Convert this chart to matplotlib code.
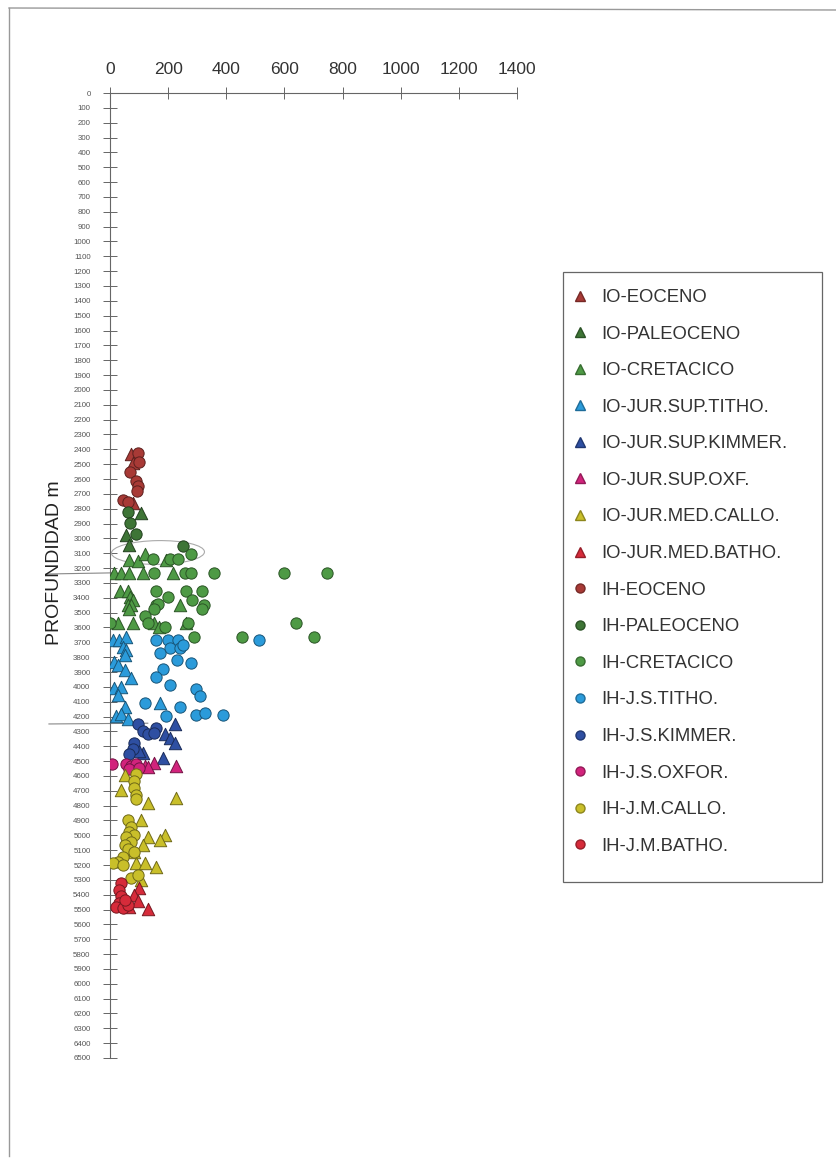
import matplotlib
matplotlib.use("Agg")
import matplotlib.pyplot as plt
from matplotlib.patches import Ellipse, Rectangle
from matplotlib.lines import Line2D
import numpy as np

plt.rcParams['font.family'] = ['Liberation Sans', 'DejaVu Sans']

# ---------------- data (x value, depth m) ----------------
io_eoceno_x = [73, 80, 78]
io_eoceno_d = [2434, 2494, 2760]
ih_eoceno_x = [96, 101, 69, 90, 96, 93, 44, 61]
ih_eoceno_d = [2422, 2485, 2553, 2613, 2650, 2681, 2744, 2755]

io_paleoceno_x = [107, 55, 65]
io_paleoceno_d = [2831, 2978, 3045]
ih_paleoceno_x = [61, 70, 90, 251]
ih_paleoceno_d = [2820, 2899, 2973, 3048]

io_cretacico_x = [67, 98, 122, 191, 15, 38, 67, 113, 217, 36, 61, 68, 78, 61, 73, 240, 67, 27, 78, 151, 263, 170]
io_cretacico_d = [3145, 3149, 3104, 3145, 3235, 3235, 3235, 3235, 3235, 3352, 3352, 3392, 3415, 3448, 3448, 3448, 3475, 3567, 3567, 3567, 3567, 3594]
ih_cretacico_x = [148, 205, 234, 277, 151, 257, 277, 357, 597, 747, 157, 263, 315, 200, 282, 159, 165,
                  323, 153, 315, 122, 0, 130, 269, 641, 188, 289, 453, 703]
ih_cretacico_d = [3140, 3140, 3140, 3104, 3235, 3235, 3235, 3235, 3235, 3235, 3352, 3352, 3352, 3392, 3415, 3448, 3440,
                  3448, 3475, 3475, 3522, 3567, 3567, 3567, 3567, 3594, 3662, 3662, 3662]

io_titho_x = [9, 32, 55, 44, 55, 50, 15, 27, 50, 73, 15, 38, 27, 171, 50, 21, 38, 61]
io_titho_d = [3684, 3684, 3662, 3729, 3752, 3785, 3830, 3853, 3887, 3943, 4010, 3999, 4055, 4107, 4134, 4196, 4184, 4218]
ih_titho_x = [159, 199, 234, 205, 240, 251, 173, 231, 280, 182, 159, 205, 297, 309, 119, 240, 194, 297, 326, 390, 512]
ih_titho_d = [3684, 3684, 3684, 3740, 3740, 3718, 3774, 3819, 3842, 3882, 3931, 3988, 4017, 4062, 4107, 4134, 4197, 4190, 4179, 4190, 3684]

io_kimmer_x = [222, 188, 205, 222, 113, 182, 101]
io_kimmer_d = [4247, 4319, 4342, 4375, 4443, 4481, 4431]
ih_kimmer_x = [96, 113, 159, 130, 153, 84, 78, 67]
ih_kimmer_d = [4247, 4297, 4279, 4319, 4308, 4375, 4420, 4449]

io_oxf_x = [119, 153, 228, 130]
io_oxf_d = [4533, 4510, 4533, 4540]
ih_oxf_x = [7, 55, 73, 90, 67, 101]
ih_oxf_d = [4517, 4521, 4533, 4521, 4555, 4544]

io_callo_x = [50, 38, 130, 228, 107, 130, 188, 171, 113, 90, 119, 159, 107, 84]
io_callo_d = [4593, 4697, 4780, 4746, 4900, 5011, 5000, 5033, 5067, 5184, 5189, 5211, 5300, 5111]
ih_callo_x = [90, 84, 84, 90, 90, 61, 73, 67, 84, 55, 73, 50, 61, 84, 44, 27, 9, 44, 73, 96]
ih_callo_d = [4584, 4634, 4683, 4728, 4757, 4900, 4944, 4978, 5000, 5011, 5044, 5067, 5089, 5111, 5144, 5178, 5184, 5200, 5289, 5267]

io_batho_x = [101, 84, 96, 67, 130, 55]
io_batho_d = [5356, 5400, 5444, 5482, 5495, 5433]
ih_batho_x = [38, 32, 38, 32, 21, 44, 61, 50]
ih_batho_d = [5322, 5367, 5411, 5456, 5482, 5489, 5467, 5433]

io_labels = ['IO-EOCENO', 'IO-PALEOCENO', 'IO-CRETACICO', 'IO-JUR.SUP.TITHO.', 'IO-JUR.SUP.KIMMER.',
             'IO-JUR.SUP.OXF.', 'IO-JUR.MED.CALLO.', 'IO-JUR.MED.BATHO.']
ih_labels = ['IH-EOCENO', 'IH-PALEOCENO', 'IH-CRETACICO', 'IH-J.S.TITHO.', 'IH-J.S.KIMMER.',
             'IH-J.S.OXFOR.', 'IH-J.M.CALLO.', 'IH-J.M.BATHO.']
colors = ['#A83A36', '#3E7536', '#4E9A45', '#2B9BDA', '#2E4FA2', '#D2237C', '#C9BF2A', '#D62B3A']

io_series = [(io_eoceno_x, io_eoceno_d), (io_paleoceno_x, io_paleoceno_d), (io_cretacico_x, io_cretacico_d),
             (io_titho_x, io_titho_d), (io_kimmer_x, io_kimmer_d), (io_oxf_x, io_oxf_d),
             (io_callo_x, io_callo_d), (io_batho_x, io_batho_d)]
ih_series = [(ih_eoceno_x, ih_eoceno_d), (ih_paleoceno_x, ih_paleoceno_d), (ih_cretacico_x, ih_cretacico_d),
             (ih_titho_x, ih_titho_d), (ih_kimmer_x, ih_kimmer_d), (ih_oxf_x, ih_oxf_d),
             (ih_callo_x, ih_callo_d), (ih_batho_x, ih_batho_d)]

# ---------------- figure ----------------
W, H = 837, 1162
fig = plt.figure(figsize=(8.37, 11.62), dpi=100)
ax = fig.add_axes([110 / W, 1 - 1058 / H, 407 / W, (1058 - 93) / H])


def darker(c, f=0.55):
    rgb = np.array(matplotlib.colors.to_rgb(c))
    return tuple(rgb * f)


for i in range(8):
    x, d = io_series[i]
    ax.scatter(x, d, marker='^', s=80, color=colors[i], edgecolor=darker(colors[i]), linewidth=0.7, zorder=3)
    x, d = ih_series[i]
    ax.scatter(x, d, marker='o', s=66, color=colors[i], edgecolor=darker(colors[i]), linewidth=0.7, zorder=3)

ax.set_xlim(0, 1400)
ax.set_ylim(6500, 0)
ax.set_xticks(np.arange(0, 1401, 200))
ax.set_yticks(np.arange(0, 6501, 100))
ax.xaxis.tick_top()
for s in ['right', 'bottom']:
    ax.spines[s].set_visible(False)
for s in ['left', 'top']:
    ax.spines[s].set_color('#666666')
    ax.spines[s].set_linewidth(0.8)
ax.tick_params(axis='x', direction='inout', length=8, width=0.7, color='#666666',
               labelsize=12.5, labelcolor='#333333', pad=7.5)
ax.tick_params(axis='y', direction='inout', length=10, width=0.7, color='#666666',
               labelsize=5.7, labelcolor='#555555', pad=9)
ax.patch.set_alpha(0)

# hand annotations on the scanned sheet
ax.add_patch(Ellipse((165, 3095), 320, 160, angle=-2, fill=False, edgecolor='#aaaaaa', linewidth=0.8, zorder=2))
ax.plot([-220, 15], [3240, 3232], color='#888888', linewidth=0.8, clip_on=False)
ax.plot([-210, 130], [4250, 4245], color='#888888', linewidth=0.8, clip_on=False)

fig.text(55 / W, 1 - 563 / H, 'PROFUNDIDAD m', rotation=90, fontsize=14, color='#222222',
         ha='center', va='center')

# legend (frame drawn separately)
handles = []
for i in range(8):
    handles.append(Line2D([], [], marker='^', linestyle='none', markersize=6.5, color=colors[i],
                          markeredgecolor=darker(colors[i], 0.7), label=io_labels[i]))
for i in range(8):
    handles.append(Line2D([], [], marker='o', linestyle='none', markersize=6.5, color=colors[i],
                          markeredgecolor=darker(colors[i], 0.7), label=ih_labels[i]))
leg = fig.legend(handles=handles, loc='upper left', bbox_to_anchor=(571 / W, 1 - 289 / H),
                 fontsize=13.3, labelcolor='#333333', frameon=False,
                 labelspacing=1.06, handlelength=1.0, handletextpad=0.65, borderpad=0, borderaxespad=0)
fig.add_artist(Rectangle((563 / W, 1 - 882 / H), (822 - 563) / W, (882 - 272) / H,
                         transform=fig.transFigure, fill=False, edgecolor='#666666', linewidth=0.9))

# sheet border from the scan
fig.add_artist(Line2D([9 / W, 9 / W], [1 - 8 / H, 0.005], transform=fig.transFigure, color='#999999', linewidth=1))
fig.add_artist(Line2D([9 / W, 1.0], [1 - 8 / H, 1 - 10 / H], transform=fig.transFigure, color='#999999', linewidth=1))

fig.savefig('out.png', dpi=100)
